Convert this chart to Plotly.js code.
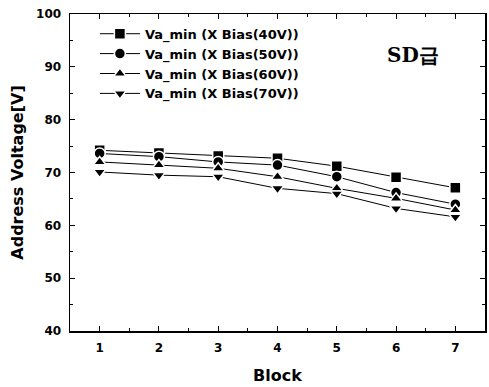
<!DOCTYPE html>
<html><head><meta charset="utf-8">
<script src="https://cdn.plot.ly/plotly-3.0.1.min.js"></script>
<style>body{margin:0;background:#fff}#c{width:489px;height:387px}</style>
</head><body><div id="c"></div>
<script>
const blocks = [1,2,3,4,5,6,7];
const names = ["Va_min (X Bias(40V))","Va_min (X Bias(50V))","Va_min (X Bias(60V))","Va_min (X Bias(70V))"];
const v40 = [74.2,73.7,73.1,72.7,71.2,69.1,67.1];
const v50 = [73.6,73.0,72.0,71.4,69.2,66.2,64.0];
const v60 = [72.0,71.4,70.8,69.2,67.0,65.1,62.9];
const v70 = [70.1,69.5,69.2,67.0,66.0,63.2,61.6];
const symbols = ["square","circle","triangle-up","triangle-down"];
const series = [v40,v50,v60,v70];
const F = "DejaVu Sans, Verdana, sans-serif";
const traces = series.map((s,i)=>({
  x: blocks, y: s, name: names[i], type:'scatter', mode:'lines+markers',
  line:{color:'#000',width:1},
  marker:{symbol:symbols[i],size:11,color:'#000',line:{color:'#fff',width:1.5}}
}));
const axBase = {showgrid:false, zeroline:false, showline:true, linecolor:'#000', linewidth:1.5, mirror:'ticks',
  ticks:'inside', ticklen:5, tickwidth:1, tickcolor:'#000', ticklabelstandoff:5,
  tickfont:{family:F,size:12,color:'#000',weight:'bold'}};
const layout = {
  width:489, height:387, margin:{l:70,r:4,t:14,b:56},
  paper_bgcolor:'#fff', plot_bgcolor:'#fff', showlegend:true,
  xaxis:Object.assign({}, axBase, {range:[0.5,7.5], tickvals:blocks, minor:{ticks:'inside',ticklen:3,dtick:0.5,tick0:0.5,tickcolor:'#000'},
    title:{text:'Block', font:{family:F,size:16,color:'#000',weight:'bold'}, standoff:16}}),
  yaxis:Object.assign({}, axBase, {range:[40,100], dtick:10, minor:{ticks:'inside',ticklen:3,dtick:5,tickcolor:'#000'},
    title:{text:'Address Voltage[V]', font:{family:F,size:16,color:'#000',weight:'bold'}, standoff:8}}),
  legend:{x:0.06, y:0.985, xanchor:'left', yanchor:'top', bgcolor:'rgba(0,0,0,0)', itemwidth:40, tracegroupgap:0,
    font:{family:F,size:13,color:'#000',weight:'bold'}},
  annotations:[{text:'SD급', xref:'paper', yref:'paper', x:0.895, y:0.915, showarrow:false,
    font:{family:'DejaVu Serif, Liberation Serif, serif',size:20,color:'#000',weight:'bold'}}]
};
Plotly.newPlot('c', traces, layout, {staticPlot:true});
</script></body></html>
